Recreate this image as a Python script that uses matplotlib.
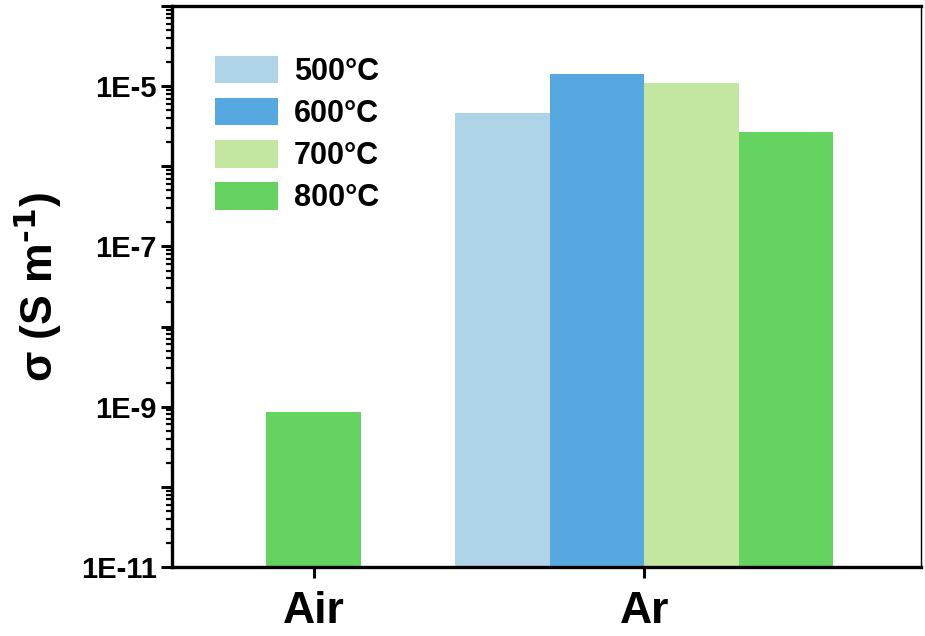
import matplotlib
matplotlib.use("Agg")
import matplotlib.pyplot as plt
import matplotlib.transforms as mtransforms
from matplotlib.ticker import LogLocator, FixedLocator, FixedFormatter, NullFormatter

plt.rcParams['font.family'] = ['Liberation Sans', 'DejaVu Sans']
plt.rcParams['font.weight'] = 'bold'
plt.rcParams['mathtext.default'] = 'bf'

series = ['500°C', '600°C', '700°C', '800°C']
colors = ['#b0d4e7', '#55a8e0', '#c3e6a0', '#65d360']
categories = ['Air', 'Ar']
# values per series for [Air, Ar]; None = no bar
air_values = [None, None, None, 8.5e-10]
ar_values = [4.6e-6, 1.40e-5, 1.09e-5, 2.65e-6]
ytick_labels = ['1E-11', '', '1E-9', '', '1E-7', '', '1E-5', '']
ytick_values = [1e-11, 1e-10, 1e-9, 1e-8, 1e-7, 1e-6, 1e-5, 1e-4]

fig = plt.figure(figsize=(9.25, 6.36), dpi=100)
ax = fig.add_axes([172/925, 69/636, 749/925, 561/636])

w = 1.0
air_pos = 1.5
ar_center = 5.0
for i, (lab, col) in enumerate(zip(series, colors)):
    xs, ys = [], []
    if air_values[i] is not None:
        xs.append(air_pos)
        ys.append(air_values[i])
    if ar_values[i] is not None:
        xs.append(ar_center + (i - 1.5) * w)
        ys.append(ar_values[i])
    ax.bar(xs, ys, width=w, color=col, label=lab, bottom=1e-11, zorder=2)

ax.set_yscale('log')
ax.set_ylim(1e-11, 1e-4)
ax.set_xlim(0, 7.93)

ax.yaxis.set_major_locator(FixedLocator(ytick_values))
ax.yaxis.set_major_formatter(FixedFormatter(ytick_labels))
ax.yaxis.set_minor_locator(LogLocator(base=10, subs=range(2, 10), numticks=20))
ax.yaxis.set_minor_formatter(NullFormatter())

ax.set_xticks([air_pos, ar_center])
ax.set_xticklabels(categories, fontsize=32, fontweight='bold')
offset = mtransforms.ScaledTranslation(8/100, 0, fig.dpi_scale_trans)
for lab in ax.get_xticklabels():
    lab.set_transform(lab.get_transform() + offset)

ax.tick_params(axis='y', which='major', length=8, width=2.2, labelsize=21, pad=3)
ax.tick_params(axis='y', which='minor', length=4.5, width=1.6)
ax.tick_params(axis='x', which='major', length=8, width=2.2, pad=9)
ax.tick_params(top=False, right=False, which='both')
for lab in ax.get_yticklabels():
    lab.set_fontweight('bold')

for s in ['left', 'bottom', 'top']:
    ax.spines[s].set_linewidth(2.4)
ax.spines['right'].set_linewidth(1.0)

ax.set_ylabel(r'σ (S m$^{\text{-}1}$)', fontsize=32, fontweight='bold', labelpad=12)

leg = ax.legend(loc='upper left', bbox_to_anchor=(0.0574, 0.911), frameon=False,
                fontsize=22, handlelength=2.06, handleheight=1.0, labelspacing=0.36,
                handletextpad=0.52, borderpad=0, borderaxespad=0)
for t in leg.get_texts():
    t.set_fontweight('bold')

fig.savefig('out.png', dpi=100)
